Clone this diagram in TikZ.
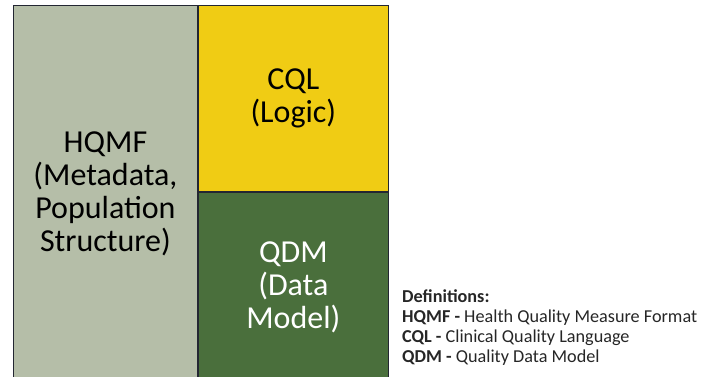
\documentclass[tikz,border=0pt]{standalone}
\usepackage{fontspec}
\setmainfont{Carlito}
\definecolor{hqmfgray}{RGB}{181,190,168}
\definecolor{cqlyellow}{RGB}{240,204,20}
\definecolor{qdmgreen}{RGB}{74,111,60}
\definecolor{edgedark}{RGB}{35,38,50}
\begin{document}
\begin{tikzpicture}
[
    x=1pt, y=-1pt,
    panel/.style={draw=edgedark, line width=0.9pt, anchor=north west, inner sep=0pt,
        align=center, font=\fontsize{32}{33}\selectfont},
    defs/.style={anchor=north west, inner sep=0pt, align=left,
        font=\fontsize{18.2}{20}\selectfont, text=black!85},
]
\useasboundingbox (0,0) rectangle (715,377);
\clip (0,0) rectangle (715,377);
% three blocks of the measure
\node [panel, fill=hqmfgray, minimum width=184pt, minimum height=376pt] (hqmf) at (13,5)
{HQMF\\(Metadata,\\Population\\Structure)};
\node [panel, fill=cqlyellow, minimum width=190pt, minimum height=186pt] (cql) at (hqmf.north east)
{CQL\\(Logic)};
\node [panel, fill=qdmgreen, text=white, minimum width=190pt, minimum height=190pt] (qdm) at (cql.south west)
{QDM\\(Data\\Model)};
% legend
\node [defs] (definitions) at (402,290)
{\textbf{Definitions:}\\
\textbf{HQMF -} Health Quality Measure Format\\
\textbf{CQL -} Clinical Quality Language\\
\textbf{QDM -} Quality Data Model};
\end{tikzpicture}
\end{document}
